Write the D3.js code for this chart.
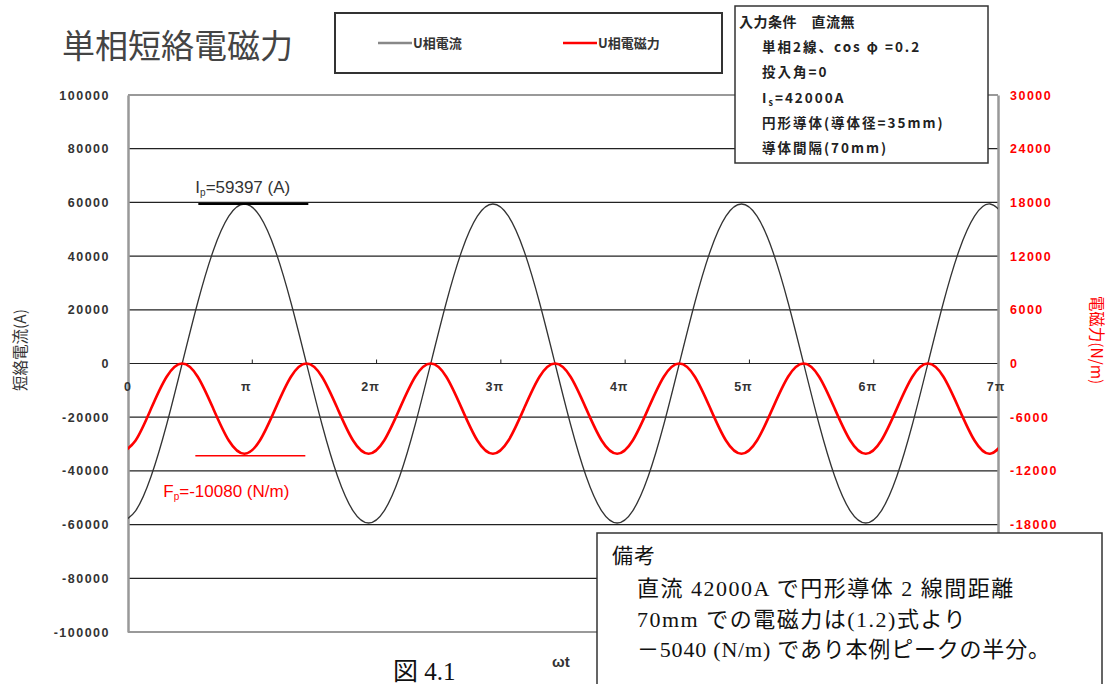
<!DOCTYPE html>
<html><head><meta charset="utf-8">
<script src="https://cdn.jsdelivr.net/npm/d3@7"></script>
<style>body{margin:0;background:#fff}svg{display:block}</style>
</head><body><svg id="c" width="1108" height="684"></svg>
<script>
// ωt expressed in units of π
const phaseX = [-0.064,0.061,0.186,0.311,0.436,0.561,0.686,0.811,0.936,1.061,1.186,1.311,1.436,1.561,1.686,1.811,1.936,2.061,2.186,2.311,2.436,2.561,2.686,2.811,2.936,3.061,3.186,3.311,3.436,3.561,3.686,3.811,3.936,4.061,4.186,4.311,4.436,4.561,4.686,4.811,4.936,5.061,5.186,5.311,5.436,5.561,5.686,5.811,5.936,6.061,6.186,6.311,6.436,6.561,6.686,6.811,6.936,7.061];
// U相電流 (A)
const currentA = [-59397,-54876,-42000,-22731,
  0,22731,42000,54876,59397,54876,42000,22731,0,-22731,-42000,-54876,-59397,-54876,-42000,-22731,
  0,22731,42000,54876,59397,54876,42000,22731,0,-22731,-42000,-54876,-59397,-54876,-42000,-22731,
  0,22731,42000,54876,59397,54876,42000,22731,0,-22731,-42000,-54876,-59397,-54876,-42000,-22731,
  0,22731,42000,54876,59397,54876];
// U相電磁力 (N/m)
const forceNm = [-10080,-8604,-5040,-1476,
  0,-1476,-5040,-8604,-10080,-8604,-5040,-1476,0,-1476,-5040,-8604,-10080,-8604,-5040,-1476,
  0,-1476,-5040,-8604,-10080,-8604,-5040,-1476,0,-1476,-5040,-8604,-10080,-8604,-5040,-1476,
  0,-1476,-5040,-8604,-10080,-8604,-5040,-1476,0,-1476,-5040,-8604,-10080,-8604,-5040,-1476,
  0,-1476,-5040,-8604,-10080,-8604];
const leftTicks = [100000,80000,60000,40000,20000,0,-20000,-40000,-60000,-80000,-100000];
const rightTicks = [30000,24000,18000,12000,6000,0,-6000,-12000,-18000];
const xTicks = [0,1,2,3,4,5,6,7];
const xTickLabels = ["0","π","2π","3π","4π","5π","6π","7π"];
const seriesNames = ["U相電流","U相電磁力"];
const infoLines = ["単相2線、cos φ =0.2","投入角=0","I_s=42000A","円形導体(導体径=35mm)","導体間隔(70mm)"];
const noteLines = ["直流 42000A で円形導体 2 線間距離","70mm での電磁力は(1.2)式より","－5040 (N/m) であり本例ピークの半分。"];
const peakCurrent = 59397, peakForce = -10080;

const svg = d3.select("#c");
const X0=128, X1=998, Y0=95, Y1=632;
const x = d3.scaleLinear([0,7],[X0,X1]);
const yL = d3.scaleLinear([-100000,100000],[Y1,Y0]);
const yR = d3.scaleLinear([-30000,30000],[Y1,Y0]);
const sans = "'Liberation Sans', Arial, sans-serif";
const jp = "'Noto Sans CJK JP', sans-serif";
const serif = "'Liberation Serif', 'Noto Sans CJK JP', serif";

// gridlines
svg.append("g").selectAll("line").data(leftTicks.filter(d=>Math.abs(d)<100000)).join("line")
  .attr("x1",X0).attr("x2",X1).attr("y1",d=>yL(d)).attr("y2",d=>yL(d))
  .attr("stroke","#222").attr("stroke-width",1.2);
[100000,-100000].forEach(v=>svg.append("line").attr("x1",X0).attr("x2",X1).attr("y1",yL(v)).attr("y2",yL(v)).attr("stroke","#999").attr("stroke-width",2));

// left axis
const gL = svg.append("g").attr("transform",`translate(${X0},0)`)
  .call(d3.axisLeft(yL).tickValues(leftTicks).tickSize(0).tickPadding(18).tickFormat(d=>String(d)));
gL.select(".domain").attr("stroke","#999").attr("stroke-width",2.5);
gL.selectAll("text").attr("font-family",sans).attr("font-weight","bold").attr("font-size",12.5).attr("letter-spacing",1.5).attr("fill","#333");

// right axis
const gR = svg.append("g").attr("transform",`translate(${X1},0)`)
  .call(d3.axisRight(yR).tickValues(rightTicks).tickSize(0).tickPadding(12).tickFormat(d=>String(d)));
gR.select(".domain").attr("stroke","#999").attr("stroke-width",2.5);
gR.selectAll("text").attr("font-family",sans).attr("font-weight","bold").attr("font-size",12.5).attr("letter-spacing",1.5).attr("fill","#ff0000");

// x ticks on zero line
svg.append("g").selectAll("line").data(xTicks.slice(1,7)).join("line")
  .attr("x1",d=>x(d)).attr("x2",d=>x(d)).attr("y1",yL(0)).attr("y2",yL(0)-4).attr("stroke","#222");
svg.append("g").selectAll("text").data(xTicks).join("text")
  .attr("x",(d,i)=>x(d)+(i===0?0:(i===7?-2:-6))).attr("y",yL(0)+27)
  .attr("text-anchor","middle")
  .attr("font-family",sans).attr("font-weight","bold").attr("font-size",12.5).attr("letter-spacing",1).attr("fill","#333")
  .text((d,i)=>xTickLabels[i]);

// curves
svg.append("clipPath").attr("id","pc").append("rect").attr("x",X0).attr("y",Y0).attr("width",X1-X0).attr("height",Y1-Y0);
const pts = phaseX.map((p,i)=>({p,c:currentA[i],f:forceNm[i]}));
svg.append("path").datum(pts).attr("clip-path","url(#pc)")
  .attr("d",d3.line().x(d=>x(d.p)).y(d=>yL(d.c)).curve(d3.curveNatural))
  .attr("fill","none").attr("stroke","#333").attr("stroke-width",1.3);
svg.append("path").datum(pts).attr("clip-path","url(#pc)")
  .attr("d",d3.line().x(d=>x(d.p)).y(d=>yR(d.f)).curve(d3.curveNatural))
  .attr("fill","none").attr("stroke","#ff0000").attr("stroke-width",2.6);

// peak annotations
const pkC = pts.find(d=>d.c===peakCurrent), pkF = pts.find(d=>d.f===peakForce && d.p>0);
svg.append("line").attr("x1",x(pkC.p)-46).attr("x2",x(pkC.p)+64).attr("y1",yL(peakCurrent)).attr("y2",yL(peakCurrent)).attr("stroke","#000").attr("stroke-width",2);
const tI = svg.append("text").attr("x",x(pkC.p)-49).attr("y",yL(peakCurrent)-11).attr("font-family",sans).attr("font-size",17).attr("fill","#333");
tI.append("tspan").text("I");
tI.append("tspan").attr("font-size",10).attr("dy",3).text("p");
tI.append("tspan").attr("dy",-3).text("=59397 (A)");
svg.append("line").attr("x1",x(pkF.p)-49).attr("x2",x(pkF.p)+61).attr("y1",yR(peakForce)+2).attr("y2",yR(peakForce)+2).attr("stroke","#ff0000").attr("stroke-width",1.5);
const tF = svg.append("text").attr("x",x(pkF.p)-81).attr("y",yR(peakForce)+43).attr("font-family",sans).attr("font-size",17).attr("fill","#ff0000");
tF.append("tspan").text("F");
tF.append("tspan").attr("font-size",10).attr("dy",3).text("p");
tF.append("tspan").attr("dy",-3).text("=-10080 (N/m)");

// axis titles
svg.append("text").attr("transform","translate(26,350) rotate(-90)").attr("text-anchor","middle")
  .attr("font-family",jp).attr("font-size",15.5).attr("fill","#333").text("短絡電流(A)");
svg.append("text").attr("transform","translate(1091,340) rotate(90)").attr("text-anchor","middle")
  .attr("font-family",jp).attr("font-size",15.5).attr("fill","#ff0000").text("電磁力(N/m)");
svg.append("text").attr("x",552).attr("y",667).attr("font-family",sans).attr("font-weight","bold").attr("font-size",15).attr("fill","#333").text("ωt");

// title
svg.append("text").attr("x",62).attr("y",58).attr("font-family",jp).attr("font-size",33).attr("fill","#444").text("単相短絡電磁力");

// legend
const lg = svg.append("g");
lg.append("rect").attr("x",335).attr("y",13).attr("width",387).attr("height",60).attr("fill","#fff").attr("stroke","#333").attr("stroke-width",2);
const legendColors = ["#888","#ff0000"], legendX = [378,563];
seriesNames.forEach((n,i)=>{
  lg.append("line").attr("x1",legendX[i]).attr("x2",legendX[i]+34).attr("y1",43).attr("y2",43).attr("stroke",legendColors[i]).attr("stroke-width",2.5);
  lg.append("text").attr("x",legendX[i]+35).attr("y",48).attr("font-family",jp).attr("font-weight","bold").attr("font-size",13).attr("fill","#333").text(n);
});

// info box
const ib = svg.append("g");
ib.append("rect").attr("x",735).attr("y",6).attr("width",253).attr("height",157).attr("fill","#fff").attr("stroke","#333").attr("stroke-width",1.5);
ib.append("text").attr("x",739).attr("y",27).attr("font-family",jp).attr("font-weight","bold").attr("font-size",14).attr("letter-spacing",0.5).attr("fill","#222").text("入力条件　直流無");
infoLines.forEach((s,i)=>{
  const t = ib.append("text").attr("x",762).attr("y",52+i*25.3).attr("font-family",jp).attr("font-weight","bold").attr("font-size",13.5).attr("letter-spacing",2).attr("fill","#222");
  if (s.startsWith("I_")) { t.append("tspan").text("I"); t.append("tspan").attr("font-size",9).attr("dy",3).text(s[2]); t.append("tspan").attr("dy",-3).text(s.slice(3)); }
  else t.text(s);
});

// note box
const nb = svg.append("g");
nb.append("rect").attr("x",597).attr("y",533).attr("width",505).attr("height",170).attr("fill","#fff").attr("stroke","#333").attr("stroke-width",1.5);
nb.append("text").attr("x",612).attr("y",563).attr("font-family",serif).attr("font-size",21).attr("letter-spacing",1).attr("fill","#111").text("備考");
noteLines.forEach((s,i)=>nb.append("text").attr("x",637).attr("y",596+i*30.5).attr("font-family",serif).attr("font-size",22).attr("letter-spacing",i===2?0.8:1.5).attr("fill","#111").text(s));

// caption
svg.append("text").attr("x",393).attr("y",680).attr("font-family",serif).attr("font-size",25).attr("fill","#111").text("図 4.1");
</script></body></html>
